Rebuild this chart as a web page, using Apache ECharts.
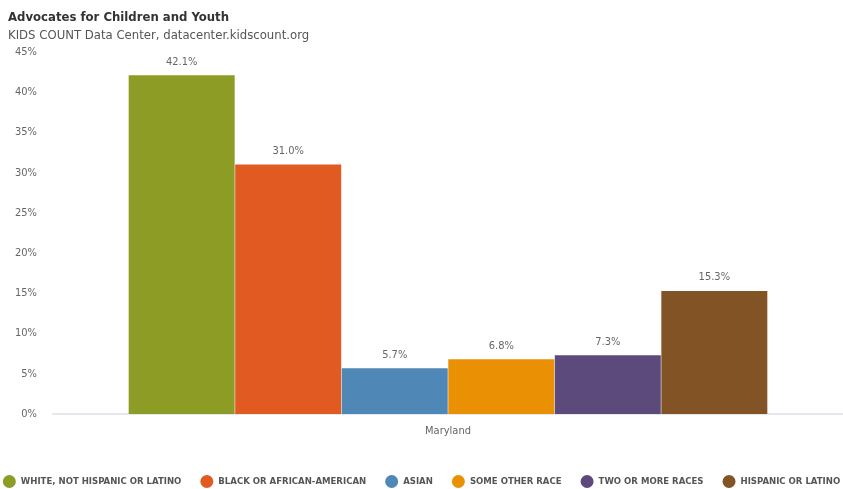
<!DOCTYPE html>
<html>
<head>
<meta charset="utf-8">
<script src="https://cdn.jsdelivr.net/npm/echarts@6/dist/echarts.min.js"></script>
<style>
  html, body { margin: 0; padding: 0; background: #fff; }
  #chart { width: 843px; height: 489px; }
</style>
</head>
<body>
<div id="chart"></div>
<script>
// data
const categories = ['Maryland'];
const seriesNames = [
  'WHITE, NOT HISPANIC OR LATINO',
  'BLACK OR AFRICAN-AMERICAN',
  'ASIAN',
  'SOME OTHER RACE',
  'TWO OR MORE RACES',
  'HISPANIC OR LATINO'
];
const seriesValues = [42.1, 31.0, 5.7, 6.8, 7.3, 15.3];
const seriesColors = ['#8c9c25', '#e05a22', '#4f88b6', '#e99005', '#5c4a7d', '#825325'];
const yTicks = [0, 5, 10, 15, 20, 25, 30, 35, 40, 45];

const font = '"DejaVu Sans Condensed", sans-serif';

var series = [];
seriesNames.forEach(function (name, i) {
  series.push({
    name: name,
    type: 'bar',
    barWidth: 106,
    barGap: '0.5%',
    itemStyle: { color: seriesColors[i] },
    label: {
      show: true,
      position: 'top',
      distance: 8,
      color: '#666',
      fontFamily: font,
      fontSize: 11,
      formatter: function (p) { return p.value.toFixed(1) + '%'; }
    },
    data: [seriesValues[i]]
  });
});

var chart = echarts.init(document.getElementById('chart'), null, { renderer: 'canvas' });
chart.setOption({
  animation: false,
  title: {
    text: 'Advocates for Children and Youth',
    subtext: 'KIDS COUNT Data Center, datacenter.kidscount.org',
    left: 3,
    top: 6,
    itemGap: 5,
    textStyle: { fontFamily: font, fontSize: 13, fontWeight: 'bold', color: '#333' },
    subtextStyle: { fontFamily: font, fontSize: 13, color: '#555' }
  },
  legend: {
    bottom: 1,
    left: 'center',
    padding: 0,
    icon: 'circle',
    itemWidth: 13,
    itemHeight: 13,
    itemGap: 19,
    textStyle: { fontFamily: font, fontSize: 9.5, fontWeight: 'bold', color: '#555' },
    data: seriesNames
  },
  grid: { left: 53, top: 52, width: 800, bottom: 75, containLabel: false },
  xAxis: {
    type: 'category',
    data: categories,
    axisLine: { lineStyle: { color: '#e3e8ef', width: 2 } },
    axisTick: { show: false },
    axisLabel: { color: '#666', fontFamily: font, fontSize: 11, margin: 12 }
  },
  yAxis: {
    type: 'value',
    min: yTicks[0],
    max: yTicks[yTicks.length - 1],
    interval: 5,
    splitLine: { show: false },
    axisLine: { show: false },
    axisTick: { show: false },
    axisLabel: {
      color: '#666', fontFamily: font, fontSize: 11, margin: 16,
      formatter: function (v) { return v + '%'; }
    }
  },
  series: series
});
</script>
</body>
</html>
